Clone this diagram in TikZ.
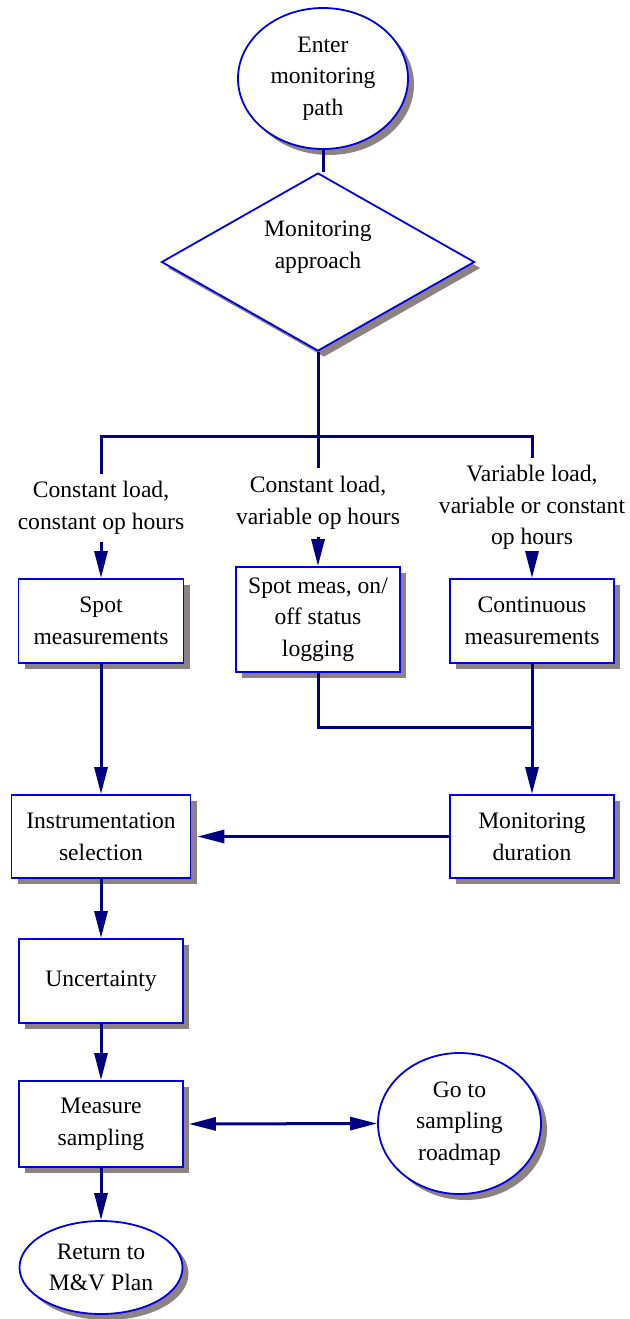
\documentclass[tikz,border=0pt]{standalone}
\usepackage{fontspec}
\setmainfont{Liberation Serif}
\usepackage{tikz}
\usetikzlibrary{shapes.geometric,arrows.meta,shadows,positioning,calc}
\definecolor{boxblue}{RGB}{0,0,225}
\definecolor{linenavy}{RGB}{0,0,128}
\definecolor{shadowgray}{RGB}{140,130,130}

\begin{document}
\begin{tikzpicture}[x=1pt, y=-1pt, ->, >={Triangle[length=27pt,width=13pt]}, line width=3pt, color=linenavy, font=\fontsize{23.6}{31.7}\selectfont]
	\tikzstyle{proc}=[rectangle, draw=boxblue, line width=1.8pt, fill=white, text=black, align=center, inner sep=2pt, drop shadow={shadow xshift=6pt, shadow yshift=-6pt, fill=shadowgray, opacity=1}]
	\tikzstyle{term}=[proc, ellipse]
	\tikzstyle{decide}=[proc, diamond, aspect=1.76, inner sep=0pt]
	\tikzstyle{cond}=[text=black, align=center, inner xsep=0pt, inner ysep=6pt]
	\useasboundingbox (0,0) rectangle (629,1319);
		\node[term, minimum width=170pt, minimum height=141pt]    (enter) at (323,78.5)  {Enter\\monitoring\\path};
		\node[decide, minimum width=313pt, minimum height=178pt, text depth=35pt] (appr) at (318,262) {Monitoring\\approach};
		\coordinate (bar) at (318,436);
		\node[cond]    (c1) at (101,508)   {Constant load,\\constant op hours};
		\node[cond]    (c2) at (318,502.5) {Constant load,\\variable op hours};
		\node[cond]    (c3) at (532,507.5) {Variable load,\\variable or constant\\op hours};
		\node[proc, minimum width=165pt, minimum height=84pt]  (spot)    at (101,621)   {Spot\\measurements};
		\node[proc, minimum width=164pt, minimum height=105pt] (spotlog) at (318,619.5) {Spot meas, on/\\off status\\logging};
		\node[proc, minimum width=164pt, minimum height=84pt]  (cont)    at (532,621)   {Continuous\\measurements};
		\coordinate (merge) at (532,727);
		\node[proc, minimum width=179pt, minimum height=83pt]  (instr)   at (101,836.5) {Instrumentation\\selection};
		\node[proc, minimum width=164pt, minimum height=83pt]  (dur)     at (532,836.5) {Monitoring\\duration};
		\node[proc, minimum width=164pt, minimum height=84pt]  (unc)     at (101,981)   {Uncertainty};
		\node[proc, minimum width=164pt, minimum height=86pt]  (meas)    at (101,1124)  {Measure\\sampling};
		\node[term, minimum width=163pt, minimum height=141pt] (goto)    at (459.5,1123.5) {Go to\\sampling\\roadmap};
		\node[term, minimum width=163pt, minimum height=93pt]  (ret)     at (101,1267.5) {Return to\\M\&V Plan};
		\draw[-] (enter) -- (enter |- appr.north);
		\draw[-] (appr.south) -- (bar);
		\draw[-] (c1.north) |- (bar) -| (c3.north);
		\draw[-] (bar) -- (c2.north);
		\draw (c1.south) -- (spot.north);
		\draw (c2.south) -- (spotlog.north);
		\draw (c3.south) -- (cont.north);
		\draw (spot.south) -- (instr.north);
		\draw[-] (spotlog.south) |- (merge);
		\draw (cont.south) -- (dur.north);
		\draw[shorten >=6pt] (dur.west) -- (instr.east);
		\draw (instr.south) -- (unc.north);
		\draw (unc.south) -- (meas.north);
		\draw[<->, shorten <=5pt] (meas.east) -- (goto.west);
		\draw (meas.south) -- (ret.north);
\end{tikzpicture}
\end{document}
